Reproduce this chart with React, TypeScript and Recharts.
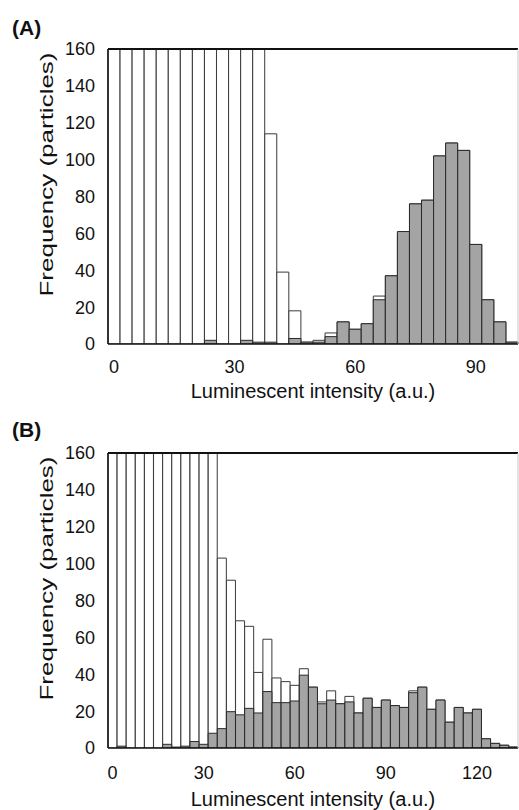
import React from 'react';
import { BarChart, Bar, XAxis, YAxis, ReferenceLine, Label } from 'recharts';

// bin centres (a.u.)
const binsA = [0, 3, 6, 9, 12, 15, 18, 21, 24, 27, 30, 33, 36, 39, 42, 45, 48, 51, 54, 57, 60, 63, 66, 69, 72, 75, 78, 81, 84, 87, 90, 93, 96, 99];
const whiteA = [200, 200, 200, 200, 200, 200, 200, 200, 200, 200, 200, 200, 200, 114, 39, 18, 1, 2, 6, 12, 8, 11, 26, 37, 60, 76, 78, 102, 109, 105, 54, 24, 12, 1];
const grayA = [0, 0, 0, 0, 0, 0, 0, 0, 2, 0, 0, 2, 1, 1, 0, 3, 1, 1, 4, 12, 8, 11, 24, 37, 61, 76, 78, 102, 109, 105, 54, 24, 12, 1];

const binsB = [0, 3, 6, 9, 12, 15, 18, 21, 24, 27, 30, 33, 36, 39, 42, 45, 48, 51, 54, 57, 60, 63, 66, 69, 72, 75, 78, 81, 84, 87, 90, 93, 96, 99, 102, 105, 108, 111, 114, 117, 120, 123, 126, 129, 132];
const whiteB = [200, 200, 200, 200, 200, 200, 200, 200, 200, 200, 200, 200, 103, 91, 69, 66, 41, 59, 38, 36, 34, 43, 33, 25, 31, 24, 28, 19, 27, 22, 26, 23, 22, 31, 33, 21, 26, 14, 22, 19, 21, 5, 2.5, 1.5, 0.5];
const grayB = [0, 1, 0, 0, 0, 0, 2, 0.5, 1, 3.5, 2, 8, 10.5, 19.7, 18, 21.5, 19, 30.6, 24.6, 24.6, 25.5, 39.5, 33, 24, 26, 24, 25, 19, 27, 22, 26, 23, 22, 30, 33, 21, 26, 14, 22, 19, 21, 5, 2.5, 1.5, 0.5];

const yTicks = [0, 20, 40, 60, 80, 100, 120, 140, 160];

const FONT = '"Liberation Sans", Arial, sans-serif';
const INK = '#111';

const toRows = (bins: number[], white: number[], gray: number[]) =>
  bins.map((b, i) => ({ bin: b, white: white[i], gray: gray[i] }));

const yTitle = (props: any) => {
  const vb = props.viewBox;
  const cx = 47;
  const cy = vb.y + vb.height / 2 - 22;
  return (
    <text
      x={cx}
      y={cy}
      transform={`rotate(-90, ${cx}, ${cy})`}
      textAnchor="middle"
      dominantBaseline="central"
      fontSize={18}
      fill={INK}
      fontFamily={FONT}
      textLength={244}
      lengthAdjust="spacingAndGlyphs"
    >
      Frequency (particles)
    </text>
  );
};

const xTitle = (dy: number) => (props: any) => {
  const vb = props.viewBox;
  return (
    <text x={vb.x + vb.width / 2} y={vb.y + dy} textAnchor="middle" fontSize={20} fill={INK} fontFamily={FONT}>
      Luminescent intensity (a.u.)
    </text>
  );
};

function Histogram({ rows, tickMargin, titleDy }: { rows: any[]; tickMargin: number; titleDy: number }) {
  return (
    <BarChart width={519} height={410} data={rows} margin={{ top: 49, right: 0, bottom: 6, left: 0 }} barCategoryGap={0} barGap={0}>
      <XAxis xAxisId="g" dataKey="bin" hide height={0} />
      <XAxis
        xAxisId="w"
        dataKey="bin"
        interval={9}
        tickLine={false}
        tickSize={0}
        tickMargin={tickMargin}
        height={60}
        axisLine={{ stroke: INK, strokeWidth: 1.5 }}
        tick={{ fontSize: 18, fill: INK, fontFamily: FONT }}
      >
        <Label content={xTitle(titleDy)} />
      </XAxis>
      <YAxis
        domain={[0, 160]}
        allowDataOverflow
        ticks={yTicks}
        width={108}
        tickLine={false}
        tickSize={0}
        tickMargin={13}
        axisLine={{ stroke: INK, strokeWidth: 1.5 }}
        tick={{ fontSize: 18, fill: INK, fontFamily: FONT }}
      >
        <Label content={yTitle} />
      </YAxis>
      <YAxis yAxisId="r" orientation="right" width={1} domain={[0, 160]} tick={false} tickLine={false} axisLine={{ stroke: '#c8c8c8' }} />
      <Bar xAxisId="w" dataKey="white" fill="#ffffff" stroke="#3a3a3a" strokeWidth={1} isAnimationActive={false} />
      <Bar xAxisId="g" dataKey="gray" fill="#a4a4a4" stroke="#2a2a2a" strokeWidth={1} isAnimationActive={false} />
      <ReferenceLine xAxisId="w" y={160} stroke={INK} strokeWidth={2} />
    </BarChart>
  );
}

const panelLabel: React.CSSProperties = {
  position: 'absolute',
  left: 12,
  fontFamily: FONT,
  fontWeight: 'bold',
  fontSize: 21,
  lineHeight: '21px',
  color: INK,
};

export default function App() {
  return (
    <div style={{ position: 'absolute', left: 0, top: 0, width: 519, height: 810, background: '#fff', overflow: 'hidden' }}>
      <div style={{ position: 'absolute', left: 0, top: 0 }}>
        <Histogram rows={toRows(binsA, whiteA, grayA)} tickMargin={16} titleDy={54} />
      </div>
      <div style={{ position: 'absolute', left: 0, top: 404 }}>
        <Histogram rows={toRows(binsB, whiteB, grayB)} tickMargin={18} titleDy={58} />
      </div>
      <div style={{ ...panelLabel, top: 17 }}>(A)</div>
      <div style={{ ...panelLabel, top: 419 }}>(B)</div>
    </div>
  );
}
